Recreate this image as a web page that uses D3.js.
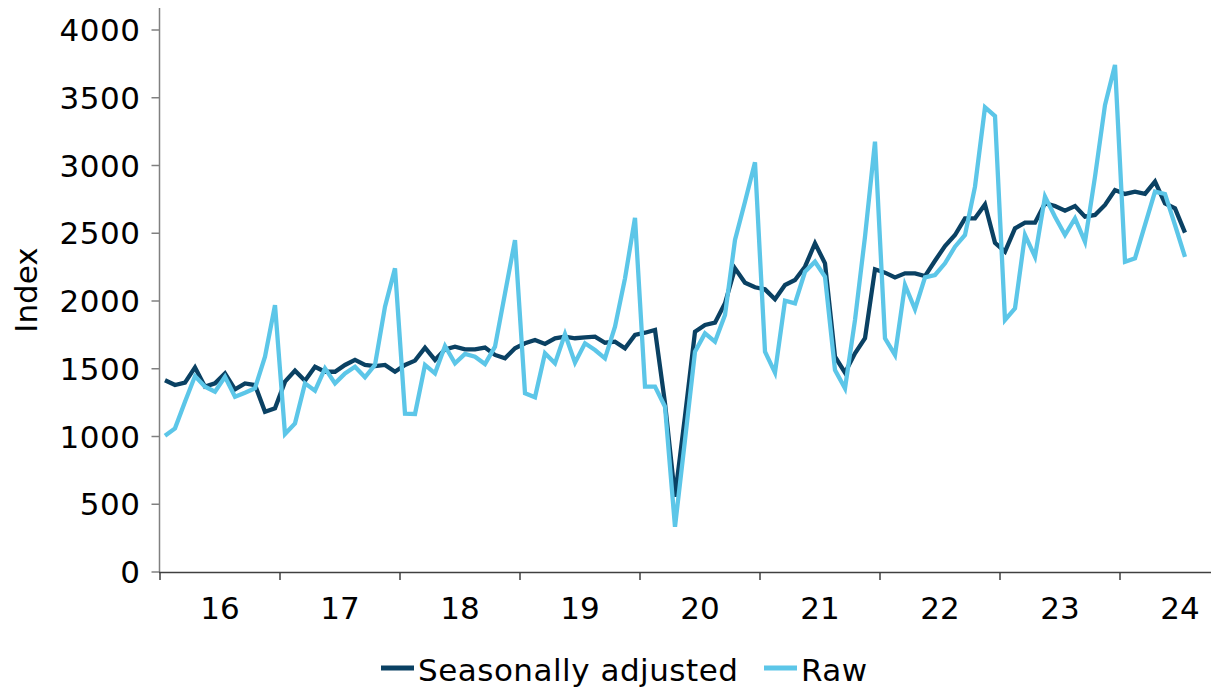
<!DOCTYPE html>
<html>
<head>
<meta charset="utf-8">
<script src="https://cdn.jsdelivr.net/npm/d3@7"></script>
<style>
  html, body { margin: 0; padding: 0; background: #fff; }
  svg { display: block; font-family: "DejaVu Sans", Verdana, sans-serif; }
</style>
</head>
<body>
<svg id="chart" width="1216" height="688"></svg>
<script>
// Monthly data, Jan 2016 .. Jul 2024
const startYear = 2016;
const yearLabels = ["16", "17", "18", "19", "20", "21", "22", "23", "24"];
const yTicks = [0, 500, 1000, 1500, 2000, 2500, 3000, 3500, 4000];

const seasonallyAdjusted = [
  // 2016
  1415, 1380, 1397, 1510, 1368, 1392, 1466, 1348, 1392, 1380, 1183, 1208,
  // 2017
  1405, 1486, 1412, 1515, 1478, 1478, 1528, 1565, 1528, 1520, 1528, 1478,
  // 2018
  1528, 1560, 1656, 1565, 1643, 1663, 1643, 1643, 1656, 1602, 1577, 1651,
  // 2019
  1688, 1712, 1683, 1725, 1737, 1725, 1732, 1737, 1692, 1700, 1651, 1749,
  // 2020
  1766, 1786, 1245, 556, 1150, 1774, 1823, 1840, 1983, 2241, 2135, 2101,
  // 2021
  2086, 2013, 2118, 2155, 2253, 2426, 2278, 1589, 1471, 1614, 1725, 2234,
  // 2022
  2209, 2174, 2204, 2204, 2184, 2297, 2406, 2487, 2610, 2610, 2713, 2430,
  // 2023
  2364, 2536, 2578, 2578, 2721, 2701, 2667, 2701, 2622, 2635, 2709, 2819,
  // 2024
  2790, 2807, 2790, 2881, 2721, 2684, 2505
];

const raw = [
  // 2016
  1005, 1060, 1257, 1446, 1368, 1331, 1441, 1294, 1323, 1356, 1589, 1970,
  // 2017
  1018, 1097, 1392, 1338, 1503, 1392, 1466, 1515, 1437, 1528, 1958, 2241,
  // 2018
  1168, 1166, 1528, 1466, 1668, 1540, 1609, 1589, 1535, 1663, 2057, 2450,
  // 2019
  1319, 1289, 1614, 1540, 1756, 1545, 1688, 1638, 1577, 1810, 2167, 2614,
  // 2020
  1368, 1368, 1220, 334, 975, 1626, 1761, 1700, 1897, 2450, 2733, 3024,
  // 2021
  1626, 1471, 2002, 1983, 2216, 2290, 2179, 1491, 1356, 1860, 2475, 3176,
  // 2022
  1725, 1602, 2118, 1939, 2174, 2192, 2278, 2401, 2487, 2844, 3429, 3365,
  // 2023
  1860, 1946, 2487, 2327, 2770, 2622, 2487, 2610, 2438, 2917, 3446, 3742,
  // 2024
  2290, 2315, 2561, 2807, 2790, 2561, 2325
];

const seriesNames = ["Seasonally adjusted", "Raw"];
const seriesColors = ["#0a4163", "#5cc6e8"];

const svg = d3.select("#chart");
const plotLeft = 160, plotRight = 1210, plotTop = 30, plotBottom = 572;
const fontSize = 31;

const x = d3.scaleLinear()
  .domain([startYear, startYear + 8.75])
  .range([plotLeft, plotRight]);
// month i (0-based) sits at the centre of its month slot
const monthX = i => x(startYear + (i + 0.5) / 12);

const y = d3.scaleLinear().domain([0, 4000]).range([plotBottom, plotTop]);

// Y axis
const yAxisG = svg.append("g").attr("transform", `translate(${plotLeft - 0.5},0)`);
yAxisG.append("line")
  .attr("x1", 0).attr("x2", 0).attr("y1", 8).attr("y2", plotBottom)
  .attr("stroke", "#808080").attr("stroke-width", 1.5);
yAxisG.selectAll("line.tick").data(yTicks).enter().append("line")
  .attr("class", "tick")
  .attr("x1", -8).attr("x2", 0)
  .attr("y1", d => y(d)).attr("y2", d => y(d))
  .attr("stroke", "#808080").attr("stroke-width", 1.5);
yAxisG.selectAll("text").data(yTicks).enter().append("text")
  .attr("x", -19).attr("y", d => y(d))
  .attr("dy", "0.36em")
  .attr("text-anchor", "end")
  .attr("font-size", fontSize)
  .attr("letter-spacing", 0.5)
  .attr("fill", "#000")
  .text(d => d);

// X axis
const yearStarts = d3.range(yearLabels.length).map(k => startYear + k);
const xAxisG = svg.append("g");
xAxisG.append("line")
  .attr("x1", plotLeft - 1).attr("x2", plotRight + 1)
  .attr("y1", plotBottom + 0.5).attr("y2", plotBottom + 0.5)
  .attr("stroke", "#404040").attr("stroke-width", 1.5);
xAxisG.selectAll("line.tick").data(yearStarts).enter().append("line")
  .attr("class", "tick")
  .attr("x1", d => x(d)).attr("x2", d => x(d))
  .attr("y1", plotBottom).attr("y2", plotBottom + 8)
  .attr("stroke", "#404040").attr("stroke-width", 1.5);
xAxisG.selectAll("text").data(yearLabels).enter().append("text")
  .attr("x", (d, k) => x(startYear + k + 0.5))
  .attr("y", 619)
  .attr("text-anchor", "middle")
  .attr("font-size", fontSize)
  .attr("fill", "#000")
  .text(d => d);

// Y axis title
svg.append("text")
  .attr("transform", "translate(37,290) rotate(-90)")
  .attr("text-anchor", "middle")
  .attr("font-size", fontSize)
  .attr("fill", "#000")
  .text("Index");

// Lines
const line = d3.line()
  .x((d, i) => monthX(i))
  .y(d => y(d));

[seasonallyAdjusted, raw].forEach((data, s) => {
  svg.append("path")
    .datum(data)
    .attr("fill", "none")
    .attr("stroke", seriesColors[s])
    .attr("stroke-width", 4.3)
    .attr("stroke-linejoin", "miter")
    .attr("d", line);
});

// Legend
const legend = svg.append("g");
const legendItems = [
  { name: seriesNames[0], color: seriesColors[0], x0: 381 },
  { name: seriesNames[1], color: seriesColors[1], x0: 764 }
];
legendItems.forEach(it => {
  legend.append("line")
    .attr("x1", it.x0).attr("x2", it.x0 + 33)
    .attr("y1", 668).attr("y2", 668)
    .attr("stroke", it.color).attr("stroke-width", 5);
  legend.append("text")
    .attr("x", it.x0 + 37).attr("y", 681)
    .attr("font-size", fontSize)
    .attr("letter-spacing", 0.5)
    .attr("fill", "#000")
    .text(it.name);
});
</script>
</body>
</html>
